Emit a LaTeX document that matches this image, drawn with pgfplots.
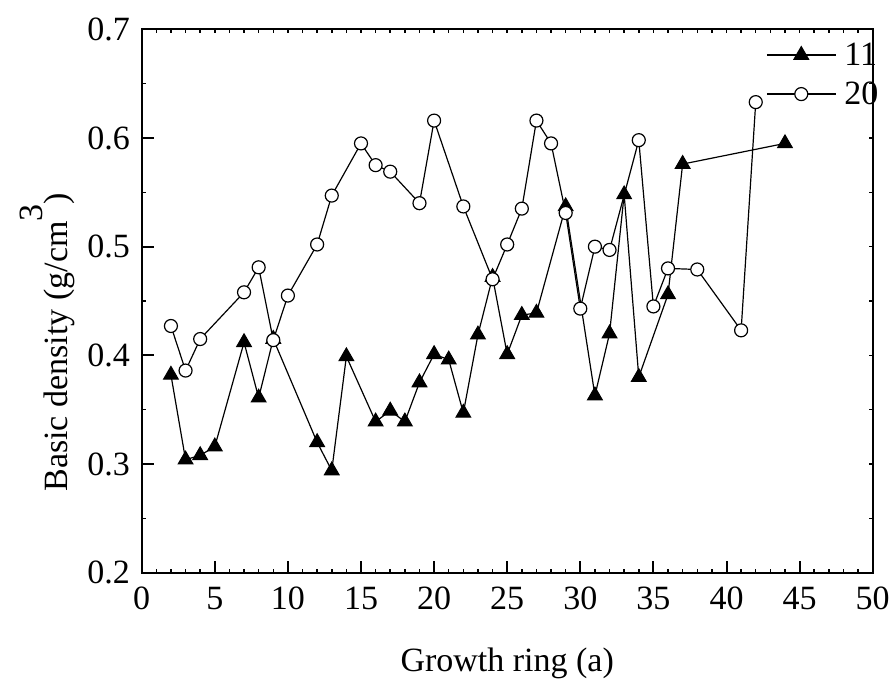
\documentclass[border=0pt]{standalone}
\usepackage{fontspec}
\setmainfont{Liberation Serif}
\usepackage{pgfplots}
\pgfplotsset{compat=1.18}

\pgfplotsset{
  frame/.style={
    at={(0,0)}, anchor=south west,
    scale only axis, width=731pt, height=543.4pt,
    xmin=0, xmax=50, ymin=0.2, ymax=0.7,
    xtick={0,5,...,50}, ytick={0.2,0.3,...,0.7},
    minor x tick num=4, minor y tick num=1,
    tick align=inside,
    font=\fontsize{34}{40}\selectfont,
    /pgf/number format/assume math mode=true,
  }
}

\begin{document}
\begin{tikzpicture}
\useasboundingbox (-141.7pt,-108.3pt) rectangle (751.3pt,572.7pt);

% short ticks on top and right
\begin{axis}[frame,
  tick pos=right,
  axis line style={draw=none},
  major tick length=4pt, minor tick length=4pt,
  every tick/.style={black, line width=1.5pt},
  xticklabels={}, yticklabels={},
]
\end{axis}

\begin{axis}[frame,
  tick pos=left,
  axis line style={line width=2.3pt},
  major tick length=12pt, minor tick length=4pt,
  major tick style={black, line width=2pt},
  minor tick style={black, line width=1.5pt},
  xticklabel style={inner sep=0pt, anchor=north, yshift=-14pt},
  yticklabel style={inner sep=0pt, anchor=east, xshift=-11.7pt,
    /pgf/number format/.cd, fixed, fixed zerofill, precision=1},
  xlabel={Growth ring (a)},
  xlabel style={at={(axis description cs:0.5,-0.182)}, anchor=base, inner sep=0pt},
  ylabel={Basic density (g/cm\raisebox{0.72em}{3})},
  ylabel style={at={(axis description cs:-0.102,0.424)}, anchor=base, inner sep=0pt},
  legend style={draw=none, fill=none, at={(0.854,0.975)}, anchor=north west,
    inner sep=0pt, row sep=15pt, column sep=8pt, nodes={inner sep=0pt}},
  legend cell align=left,
  legend image code/.code={\draw[mark repeat=2, mark phase=2, #1]
    plot coordinates {(0pt,0pt) (34.5pt,0pt) (69pt,0pt)};},
]
\addplot[black, line width=1.2pt, mark=triangle*, mark size=8.5pt,
  mark options={solid, fill=black, line width=1pt}] coordinates {
  (2,0.382) (3,0.304) (4,0.308) (5,0.316) (7,0.412) (8,0.361) (9,0.415)
  (12,0.320) (13,0.294) (14,0.399) (16,0.339) (17,0.349) (18,0.339)
  (19,0.375) (20,0.401) (21,0.396) (22,0.347) (23,0.419) (24,0.472)
  (25,0.401) (26,0.437) (27,0.439) (29,0.537) (31,0.363) (32,0.420)
  (33,0.548) (34,0.380) (36,0.456) (37,0.576) (44,0.595)
};
\addlegendentry{11}
\addplot[black, line width=1.2pt, mark=*, mark size=6.5pt,
  mark options={solid, fill=white, line width=1.2pt}] coordinates {
  (2,0.427) (3,0.386) (4,0.415) (7,0.458) (8,0.481) (9,0.414) (10,0.455)
  (12,0.502) (13,0.547) (15,0.595) (16,0.575) (17,0.569) (19,0.540)
  (20,0.616) (22,0.537) (24,0.470) (25,0.502) (26,0.535) (27,0.616)
  (28,0.595) (29,0.531) (30,0.443) (31,0.500) (32,0.497) (34,0.598)
  (35,0.445) (36,0.480) (38,0.479) (41,0.423) (42,0.633)
};
\addlegendentry{20}
\end{axis}
\end{tikzpicture}
\end{document}
